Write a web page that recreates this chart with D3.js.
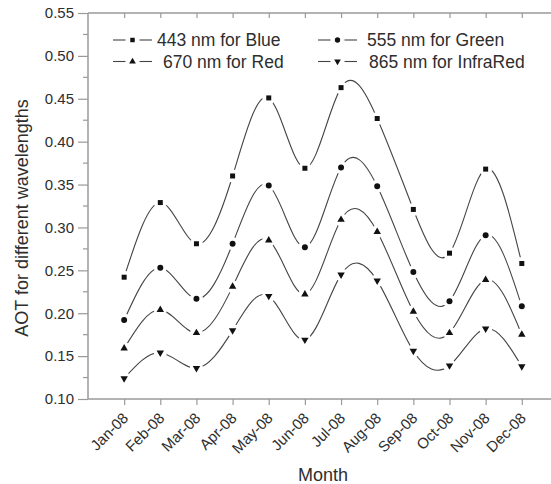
<!DOCTYPE html>
<html>
<head>
<meta charset="utf-8">
<script src="https://cdn.jsdelivr.net/npm/d3@7"></script>
<style>
  body { margin: 0; background: #fff; }
  svg { display: block; font-family: "Liberation Sans", Arial, sans-serif; }
</style>
</head>
<body>
<div id="chart"></div>
<script>
// AOT by month for four wavelengths
const months = ["Jan-08", "Feb-08", "Mar-08", "Apr-08", "May-08", "Jun-08",
                "Jul-08", "Aug-08", "Sep-08", "Oct-08", "Nov-08", "Dec-08"];
const blue  = [0.242, 0.329, 0.281, 0.360, 0.451, 0.369, 0.463, 0.427, 0.321, 0.270, 0.368, 0.258];
const green = [0.192, 0.253, 0.217, 0.281, 0.349, 0.277, 0.370, 0.348, 0.248, 0.214, 0.291, 0.208];
const red   = [0.159, 0.204, 0.177, 0.231, 0.285, 0.222, 0.309, 0.295, 0.202, 0.177, 0.239, 0.175];
const infra = [0.124, 0.154, 0.136, 0.180, 0.220, 0.169, 0.245, 0.238, 0.156, 0.139, 0.182, 0.138];
const seriesNames = ["443 nm for Blue", "555 nm for Green", "670 nm for Red", "865 nm for InfraRed"];
const yTicks = [0.10, 0.15, 0.20, 0.25, 0.30, 0.35, 0.40, 0.45, 0.50, 0.55];

const width = 551, height = 484;
const plotLeft = 88, plotTop = 13, plotBottom = 399;
const monthStep = 36.15;

const svg = d3.select("#chart").append("svg")
    .attr("width", width)
    .attr("height", height);

const x = d3.scaleLinear().domain([0, 13]).range([plotLeft, plotLeft + 13 * monthStep]);
const y = d3.scaleLinear().domain([0.10, 0.55]).range([plotBottom, plotTop]);

const axisColor = "#9a9a9a";
const textColor = "#2e2e2e";

// symbols for each series
const symbols = [
    { type: d3.symbolSquare, size: 25, rot: 0 },
    { type: d3.symbolCircle, size: 28, rot: 0 },
    { type: d3.symbolTriangle, size: 24, rot: 0 },
    { type: d3.symbolTriangle, size: 24, rot: 180 }
];
const allSeries = [blue, green, red, infra];

// axes
const yAxis = d3.axisLeft(y).tickValues(yTicks).tickFormat(d3.format(".2f")).tickSize(10).tickPadding(4);
const gy = svg.append("g").attr("transform", `translate(${plotLeft},0)`).call(yAxis);
gy.select(".domain").remove();
gy.selectAll("line").attr("stroke", axisColor).attr("stroke-width", 1.2);
gy.selectAll("text").attr("font-size", 15).attr("fill", textColor);

// minor y ticks
svg.append("g").selectAll("line")
    .data(d3.range(0, 9).map(i => 0.125 + i * 0.05))
    .join("line")
    .attr("x1", plotLeft - 5).attr("x2", plotLeft)
    .attr("y1", d => y(d)).attr("y2", d => y(d))
    .attr("stroke", axisColor).attr("stroke-width", 1.2);

// axis lines
svg.append("line").attr("x1", plotLeft).attr("x2", plotLeft).attr("y1", plotTop).attr("y2", plotBottom)
    .attr("stroke", axisColor).attr("stroke-width", 1.5);
svg.append("line").attr("x1", plotLeft).attr("x2", width).attr("y1", plotBottom).attr("y2", plotBottom)
    .attr("stroke", axisColor).attr("stroke-width", 1.5);
svg.append("line").attr("x1", plotLeft).attr("x2", width).attr("y1", plotTop).attr("y2", plotTop)
    .attr("stroke", axisColor).attr("stroke-width", 1.5);

// x ticks bottom and top
const gx = svg.append("g").attr("transform", `translate(0,${plotBottom})`)
    .call(d3.axisBottom(x).tickValues(d3.range(1, 13)).tickSize(6).tickFormat(""));
gx.select(".domain").remove();
gx.selectAll("line").attr("stroke", axisColor).attr("stroke-width", 1.2);

const gxt = svg.append("g").attr("transform", `translate(0,${plotTop})`)
    .call(d3.axisBottom(x).tickValues(d3.range(1, 13)).tickSize(5).tickFormat(""));
gxt.select(".domain").remove();
gxt.selectAll("line").attr("stroke", axisColor).attr("stroke-width", 1.2);

// rotated month labels
svg.append("g").selectAll("text")
    .data(months)
    .join("text")
    .attr("transform", (d, i) => `translate(${x(i + 1) + 5},${plotBottom + 20}) rotate(-45)`)
    .attr("text-anchor", "end")
    .attr("font-size", 15)
    .attr("fill", textColor)
    .text(d => d);

// axis titles
svg.append("text")
    .attr("x", x(6.5)).attr("y", 481)
    .attr("text-anchor", "middle")
    .attr("font-size", 18)
    .attr("fill", textColor)
    .text("Month");

svg.append("text")
    .attr("transform", "translate(28,218) rotate(-90)")
    .attr("text-anchor", "middle")
    .attr("font-size", 18)
    .attr("fill", textColor)
    .text("AOT for different wavelengths");

// curves with gaps around the markers
const line = d3.line()
    .x((d, i) => x(i + 1))
    .y(d => y(d))
    .curve(d3.curveNatural);

const defs = svg.append("defs");
allSeries.forEach((values, s) => {
    const mask = defs.append("mask").attr("id", `gap-${s}`)
        .attr("maskUnits", "userSpaceOnUse")
        .attr("x", 0).attr("y", 0).attr("width", width).attr("height", height);
    mask.append("rect").attr("width", width).attr("height", height).attr("fill", "#fff");
    mask.selectAll("circle")
        .data(values)
        .join("circle")
        .attr("cx", (d, i) => x(i + 1))
        .attr("cy", d => y(d))
        .attr("r", 6.5)
        .attr("fill", "#000");

    svg.append("path")
        .datum(values)
        .attr("d", line)
        .attr("fill", "none")
        .attr("stroke", "#444")
        .attr("stroke-width", 1.1)
        .attr("mask", `url(#gap-${s})`);

    const sym = symbols[s];
    svg.append("g").selectAll("path")
        .data(values)
        .join("path")
        .attr("d", d3.symbol().type(sym.type).size(sym.size))
        .attr("transform", (d, i) => `translate(${x(i + 1)},${y(d)}) rotate(${sym.rot})`)
        .attr("fill", "#111");
});

// legend
const legendItems = [
    { s: 0, lx: 113, ty: 40, tx: 157 },
    { s: 1, lx: 318, ty: 40, tx: 367 },
    { s: 2, lx: 113, ty: 61.5, tx: 163 },
    { s: 3, lx: 318, ty: 61.5, tx: 369 }
];
legendItems.forEach(item => {
    const g = svg.append("g");
    const cx = item.lx + 19.5;
    g.append("line").attr("x1", item.lx).attr("x2", cx - 7)
        .attr("y1", item.ty).attr("y2", item.ty)
        .attr("stroke", "#444").attr("stroke-width", 1.1);
    g.append("line").attr("x1", cx + 7).attr("x2", item.lx + 39)
        .attr("y1", item.ty).attr("y2", item.ty)
        .attr("stroke", "#444").attr("stroke-width", 1.1);
    const sym = symbols[item.s];
    g.append("path")
        .attr("d", d3.symbol().type(sym.type).size(sym.size * 0.8))
        .attr("transform", `translate(${cx},${item.ty}) rotate(${sym.rot})`)
        .attr("fill", "#111");
    g.append("text")
        .attr("x", item.tx).attr("y", item.ty + 6)
        .attr("font-size", 17.5)
        .attr("fill", textColor)
        .text(seriesNames[item.s]);
});
</script>
</body>
</html>
